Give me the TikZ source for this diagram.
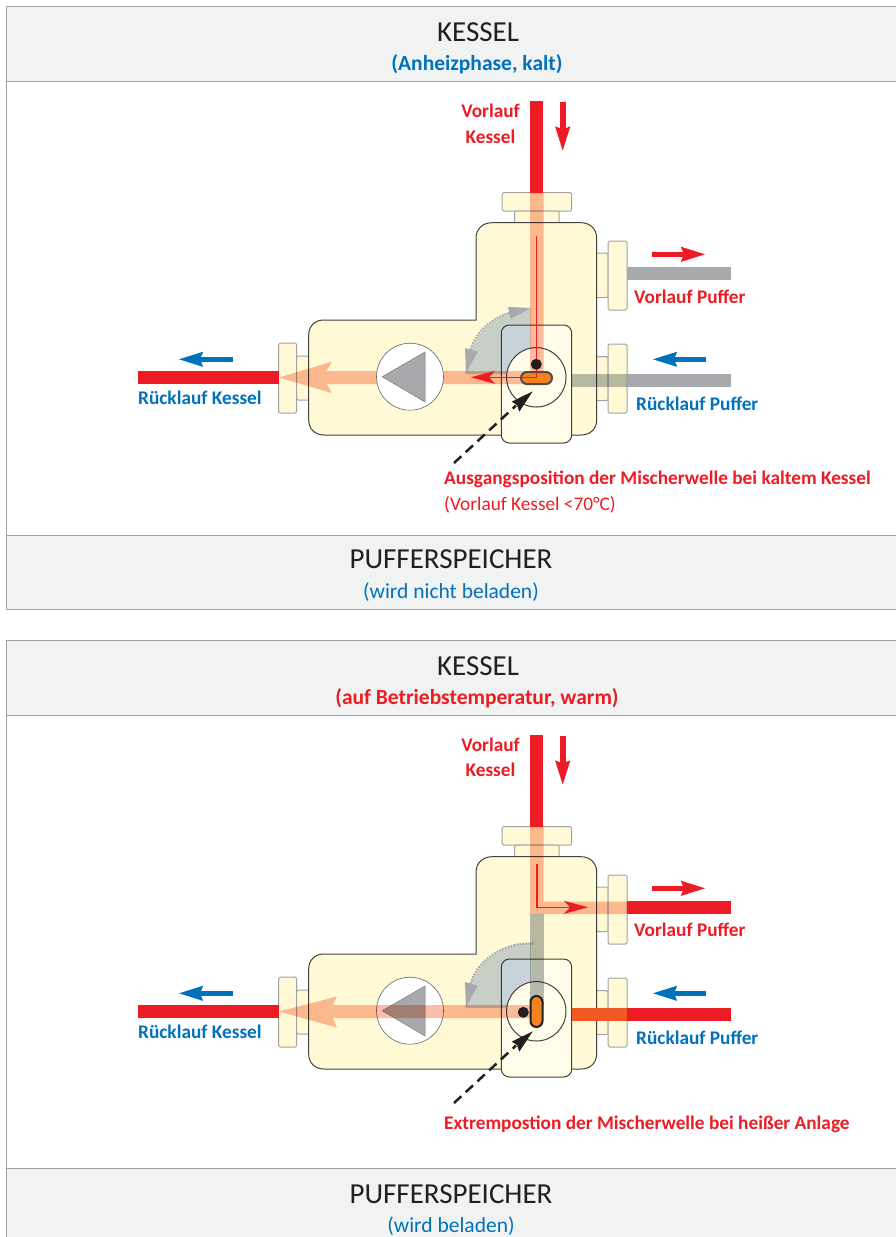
\documentclass[tikz,border=0pt]{standalone}
\usepackage{fontspec}
\setmainfont{Carlito}
\usetikzlibrary{arrows.meta}
\definecolor{cream}{HTML}{FFF9D6}
\definecolor{boxc}{HTML}{FFFCE9}
\definecolor{band}{HTML}{F1F2F2}
\definecolor{frame}{HTML}{A0A2A5}
\definecolor{pred}{HTML}{ED1C24}
\definecolor{pblue}{HTML}{0072BC}
\definecolor{pgray}{HTML}{A7A9AC}
\definecolor{peach}{HTML}{FBBDA9}
\definecolor{olive}{HTML}{B8BCBE}
\definecolor{sect}{HTML}{C8D5EE}
\definecolor{hot}{HTML}{F15A22}
\definecolor{slotc}{HTML}{F58220}
\definecolor{ink}{HTML}{231F20}
\tikzset{
  bandbox/.style={fill=band,draw=frame,line width=1pt},
  flangeL/.style={fill=cream,draw=frame,line width=1pt,rounded corners=1.5pt},
  bodyline/.style={fill=cream,draw=ink!85,line width=1pt},
  pipe/.style={line width=13pt},
  flow/.style={-{Stealth[length=24pt,width=13.5pt,inset=2pt]},line width=5.6pt},
  thinflow/.style={-{Stealth[length=24pt,width=13pt,inset=6pt]},color=pred,line width=1.2pt},
  big/.style={font=\fontsize{29}{30}\selectfont,text=ink},
  sub/.style={font=\fontsize{21.5}{22}\selectfont},
  subb/.style={font=\fontsize{21.5}{22}\selectfont\bfseries},
  lab/.style={font=\fontsize{19.3}{25.4}\selectfont\bfseries,inner sep=0pt},
  labr/.style={lab,text=pred},
  labb/.style={lab,text=pblue},
  every node/.append style={inner sep=0pt},
}
\newcommand{\valvebase}{%
  % flanges
  \draw[flangeL] (502,192.7) rectangle (571.7,211);
  \draw[flangeL] (514.7,211) rectangle (559,224);
  \draw[flangeL] (596,253) rectangle (608,297.7);
  \draw[flangeL] (608,241) rectangle (627,310);
  \draw[flangeL] (596,356.7) rectangle (608,400.7);
  \draw[flangeL] (608,344) rectangle (627,413);
  \draw[flangeL] (278.7,343) rectangle (296.7,413);
  \draw[flangeL] (296.7,356) rectangle (310,400);
  % body
  \draw[bodyline] (476,320) -- (476,238)
    .. controls (476,229) and (483,222.7) .. (492,222.7) -- (581,222.7)
    .. controls (590,222.7) and (596.7,229) .. (596.7,238) -- (596.7,420)
    .. controls (596.7,429) and (590,435) .. (581,435) -- (324,435)
    .. controls (315,435) and (308.7,429) .. (308.7,420) -- (308.7,335)
    .. controls (308.7,326) and (315,320) .. (324,320) -- cycle;
  % mixer housing
  \draw[fill=boxc,draw=ink!85,line width=1pt,rounded corners=8pt] (501.3,325) rectangle (571.7,443);
  % swing sector
  \begin{scope}[blend mode=multiply]
    \fill[sect] (530.7,374) -- (530.7,309) .. controls (494.8,309) and (465.7,338.1) .. (465.7,374) -- cycle;
  \end{scope}
}
\newcommand{\valvecircle}{%
  \draw[fill=boxc,draw=ink!85,line width=1pt] (536.3,377.3) circle[radius=29.7pt];
}
\newcommand{\pump}{%
  \draw[fill=white,draw=ink!70,line width=.6pt] (410,376.7) circle[radius=33.5pt];
  \draw[fill=pgray,draw=ink!60,line width=.5pt] (382.3,376.7) -- (425,352) -- (425,402) -- cycle;
}
\newcommand{\dottedarc}[1]{%
  \draw[draw=#1,line width=2pt,dash pattern=on 1.5pt off 1.5pt] (515,311) .. controls (490,317) and (473,335) .. (470,352);
  \fill[pgray] (466,373) -- (465,348) -- (477.7,351.7) -- cycle;
}
\newcommand{\leader}{%
  \draw[ink,line width=2.5pt,dash pattern=on 10pt off 6pt] (454,463) -- (516,405.5);
  \fill[ink] (532.7,391.3) -- (511.7,401.7) -- (517,405) -- (519.3,411.7) -- cycle;
}
\begin{document}
\begin{tikzpicture}[x=1pt,y=-1pt]
\useasboundingbox (0,0) rectangle (895,1237);
\fill[white] (0,0) rectangle (895,1237);
% ---------- panel frames
\draw[frame,line width=1pt] (895,609) -- (6,609) -- (6,6) -- (895,6);
\draw[bandbox] (896,6) -- (6,6) -- (6,81) -- (896,81);
\draw[bandbox] (896,535) -- (6,535) -- (6,609) -- (896,609);
\draw[frame,line width=1pt] (6,1240) -- (6,640) -- (896,640);
\draw[bandbox] (896,640) -- (6,640) -- (6,715) -- (896,715);
\draw[bandbox] (896,1168) -- (6,1168) -- (6,1240) -- (896,1240);
% ---------- top panel
\node[big] (k1) at (478,32) {KESSEL};
\node[subb,text=pblue] (k1s) at (477,64) {(Anheizphase, kalt)};
\node[big] (p1) at (451,559) {PUFFERSPEICHER};
\node[sub,text=pblue] (p1s) at (451,592) {(wird nicht beladen)};
\valvebase
\valvecircle
\dottedarc{pgray}
\fill[pgray] (530.7,308) -- (508,307) -- (510.7,319) -- cycle;
\draw[pipe,pred] (536.8,101) -- (536.8,193);
\draw[pipe,pred] (138,377.7) -- (279,377.7);
\draw[pipe,pgray] (627,273.5) -- (731,273.5);
\draw[pipe,pgray] (627,380.3) -- (731,380.3);
\begin{scope}[blend mode=multiply]
  \fill[olive] (571.7,374) rectangle (627,386.6);
  \fill[peach] (543.7,193) -- (530,193) -- (530,371) -- (326.7,371) -- (331.7,361.7) -- (279,377.5) -- (331.7,393) -- (326.7,384) -- (543.7,384) -- cycle;
\end{scope}
\pump
\draw[ink!80,fill=slotc,line width=2pt,rounded corners=6pt] (521,372) rectangle (552,384);
\draw[thinflow] (536.7,236) -- (536.7,377.3) -- (471,377.3);
\fill[ink] (536.3,364.3) circle[radius=5.5pt];
\leader
\draw[flow,pred] (562.7,101.5) -- (562.7,151.5);
\draw[flow,pred] (652,254.3) -- (706,254.3);
\draw[flow,pblue] (232.7,359.3) -- (178,359.3);
\draw[flow,pblue] (706,359.3) -- (652,359.3);
\node[labr,align=center,anchor=north] (vk1) at (490.5,104) {Vorlauf\\Kessel};
\node[labr,anchor=west] (vp1) at (634,297) {Vorlauf Puffer};
\node[labb,anchor=west] (rk1) at (138,398) {Rücklauf Kessel};
\node[labb,anchor=west] (rp1) at (636,404) {Rücklauf Puffer};
\node[labr,anchor=west] (a1) at (444,479) {Ausgangsposition der Mischerwelle bei kaltem Kessel};
\node[font=\fontsize{19.3}{20}\selectfont,text=pred,anchor=west] (a2) at (444,505) {(Vorlauf Kessel <70°C)};
% ---------- bottom panel
\begin{scope}[yshift=-634pt]
\node[big] (k2) at (478,32) {KESSEL};
\node[subb,text=pred] (k2s) at (477,64) {(auf Betriebstemperatur, warm)};
\node[big] (p2) at (451,560) {PUFFERSPEICHER};
\node[sub,text=pblue] (p2s) at (451,592) {(wird beladen)};
\valvebase
\valvecircle
\dottedarc{frame}
\draw[frame,line width=2pt,dash pattern=on 1.5pt off 1.5pt] (533,309.5) .. controls (525,309.5) and (518,310) .. (515,311);
\draw[pipe,pred] (536.8,101) -- (536.8,193);
\draw[pipe,pred] (138,377.7) -- (279,377.7);
\draw[pipe,pred] (627,273.5) -- (731,273.5);
\draw[pipe,pred] (627,380.3) -- (731,380.3);
\fill[hot] (571.7,374) rectangle (627,386.6);
\pump
\begin{scope}[blend mode=multiply]
  \fill[olive] (530,280) rectangle (543.7,372);
  \fill[peach] (543.7,193) -- (530,193) -- (530,280) -- (627,280) -- (627,267.5) -- (543.7,267.5) -- cycle;
  \fill[peach] (279,377.5) -- (337,362.5) -- (332.7,371) -- (530,371) -- (530,384) -- (332.7,384) -- (337,393.5) -- cycle;
\end{scope}
\draw[thinflow] (537,230) -- (537,273.3) -- (588,273.3);
\draw[ink,fill=slotc,line width=2pt,rounded corners=6pt] (530.5,362) rectangle (542.5,393);
\fill[ink] (523.3,378.3) circle[radius=5.5pt];
\begin{scope}[yshift=-6pt]
\leader
\end{scope}
\draw[flow,pred] (562.7,101.5) -- (562.7,151.5);
\draw[flow,pred] (652,254.3) -- (706,254.3);
\draw[flow,pblue] (232.7,359.3) -- (178,359.3);
\draw[flow,pblue] (706,359.3) -- (652,359.3);
\node[labr,align=center,anchor=north] (vk2) at (490.5,103.5) {Vorlauf\\Kessel};
\node[labr,anchor=west] (vp2) at (634,296) {Vorlauf Puffer};
\node[labb,anchor=west] (rk2) at (138,398) {Rücklauf Kessel};
\node[labb,anchor=west] (rp2) at (636,404) {Rücklauf Puffer};
\node[labr,anchor=west] (a3) at (444,490) {Extrempostion der Mischerwelle bei heißer Anlage};
\end{scope}
\end{tikzpicture}
\end{document}
